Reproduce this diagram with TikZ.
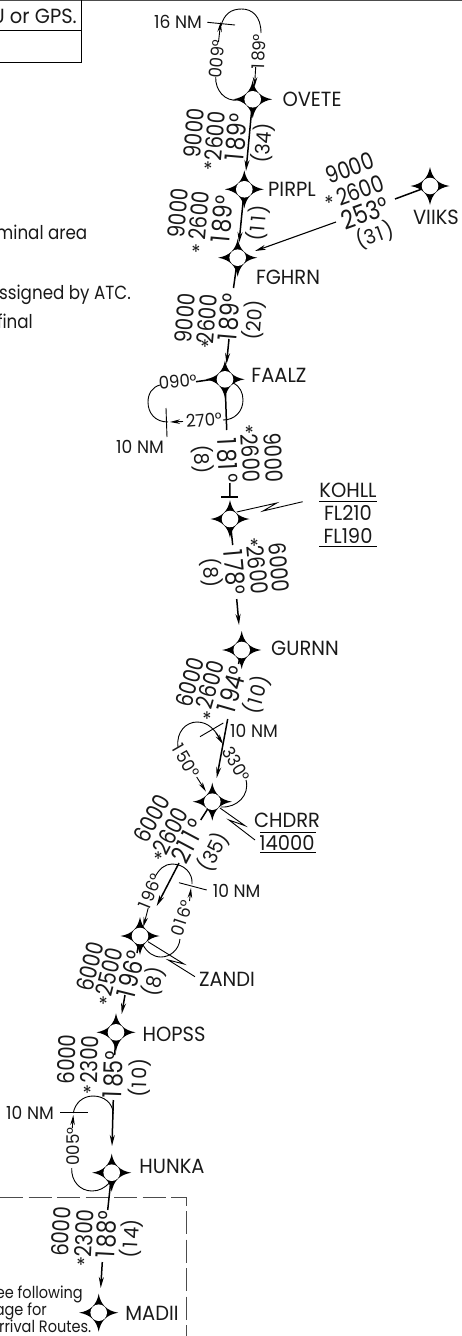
\documentclass[tikz,border=0pt]{standalone}
\usepackage{fontspec}
\usetikzlibrary{arrows.meta}
\setmainfont{Poppins}
\newfontfamily\dgf[FakeStretch=.84]{Poppins}
\newfontfamily\lbf[FakeStretch=.95]{Poppins}
\newfontfamily\ntf[FakeStretch=.88]{Poppins}
\newcommand{\one}{\kern.04em 1\kern.13em}
\tikzset{
  lab/.style={inner sep=0pt,font=\lbf\fontsize{20.5}{20}\selectfont,text=black!90},
  sm/.style={inner sep=0pt,font=\lbf\fontsize{18}{18}\selectfont,text=black!90},
  note/.style={inner sep=0pt,anchor=base east,font=\ntf\fontsize{19}{19}\selectfont,text=black!90},
  notesm/.style={note,font=\ntf\fontsize{16.5}{17}\selectfont},
  alt/.style={inner sep=0pt,font=\dgf\fontsize{23.5}{25}\selectfont,text=black!90},
  crs/.style={inner sep=0pt,font=\dgf\fontsize{26}{28}\selectfont,text=black!90},
  dst/.style={inner sep=0pt,font=\lbf\fontsize{20}{21}\selectfont,text=black!90},
  brg/.style={inner sep=0pt,font=\lbf\fontsize{17.5}{18}\selectfont,text=black!90},
  star/.style={inner sep=0pt,yshift=-2pt,font=\lbf\fontsize{20}{20}\selectfont,text=black!90},
  wptnode/.style={circle,fill=white,inner sep=0pt,minimum size=16.6pt},
  rte/.style={line width=1.5pt,black},
  rtearrow/.style={rte,-{Stealth[length=11pt,width=5pt]}},
  thin1/.style={line width=.9pt,black},
  thinarrow/.style={thin1,-{Stealth[length=10pt,width=4.5pt]}},
  dashbox/.style={line width=1pt,black!70,dash pattern=on 23pt off 5.5pt},
}
\newcommand{\wpt}[3]{%
  \begin{scope}[shift={(#2,#3)}]
  \fill (0,-19) .. controls (2,-8) and (8,-2) .. (19.5,0)
    .. controls (8,2) and (2,8) .. (0,19)
    .. controls (-2,8) and (-8,2) .. (-19.5,0)
    .. controls (-8,-2) and (-2,-8) .. (0,-19) -- cycle;
  \end{scope}
  \node[wptnode] (#1) at (#2,#3) {};}
\begin{document}
\begin{tikzpicture}[x=1pt,y=-1pt]
\useasboundingbox (0,0) rectangle (462,1336);
\clip (0,0) rectangle (462,1336);
% top frame
\draw[line width=1pt,black!70] (0,0.5) -- (462,0.5);
\draw[line width=1pt] (0,30) -- (81,30);
\draw[line width=1pt] (0,62.5) -- (81,62.5) -- (81,0);
\node[lab,anchor=base east] (t1) at (77,23) {U or GPS.};
\node[note] (t2) at (87.5,239) {minal area};
\node[note] (t3) at (131,299) {ssigned by ATC.};
\node[note] (t4) at (33,328) {final};
\node[notesm] (t5) at (83,1298) {ee following};
\node[notesm] (t6) at (47,1315) {age for};
\node[notesm] (t7) at (91.5,1332) {rrival Routes.};
% dashed box
\draw[dashbox] (0,1197.7) -- (186,1197.7) -- (186,1336);
% holding patterns and lightning leaders (under the waypoints)
\coordinate (a1) at (215.7,77); \coordinate (a2) at (238,100);
\draw[thin1] (a1) .. controls (215,90) and (225,102) .. (a2);
\draw[thin1] (261,33) .. controls (261,16) and (252,9) .. (241.7,9) .. controls (231,9) and (224,14) .. (221,26);
\draw[thinarrow] (218.5,42) -- (220.7,22);
\draw[thin1] (207.3,22.3) -- (235,25);
\draw[thinarrow] (255.7,67) -- (254.5,87);
% FAALZ
\draw[thin1] (160,385) .. controls (152,387) and (148,394) .. (148,402) .. controls (148,413) and (155,422) .. (168,422);
\draw[thinarrow] (183,421.5) -- (170,422);
\draw[thin1] (166,408) -- (167,437);
\draw[thin1] (223,420) .. controls (235,420) and (243,411) .. (243,400) .. controls (243,393) and (240,386) .. (233,383);
\draw[rte] (196,381.7) -- (215,379);
% CHDRR
\draw[thin1] (178,747) .. controls (176,732) and (186,722) .. (197,722) .. controls (208,722) and (216,730) .. (221.5,742);
\draw[thinarrow] (216,733) -- (223,744);
\draw[thin1] (200,736.7) -- (223.3,723);
\draw[thinarrow] (196.7,777) -- (206,791.7);
\draw[thin1] (246,780) .. controls (250,795) and (237,808) .. (221,807);
\draw[thin1] (220,808) -- (245,825.7) -- (229,820) -- (255,840);
% ZANDI
\draw[thin1] (155,877) .. controls (159,869) and (165,864) .. (172,864) .. controls (184,864) and (193,873) .. (192,884);
\draw[thinarrow] (189.5,901) -- (191,888);
\draw[thin1] (179,882.7) -- (206.7,890);
\draw[thinarrow] (148.3,907.7) -- (143.3,927);
\draw[thin1] (180,939) .. controls (179,950) and (170,957) .. (161,957) .. controls (153,957) and (147,952) .. (143,945);
\draw[thin1] (148,941.7) -- (184,964) -- (168.3,960) -- (195,976.7);
% HUNKA
\draw[thin1] (73.3,1113) .. controls (75,1103) and (83,1096) .. (93,1096) .. controls (104,1096) and (113,1103) .. (113.3,1114);
\draw[thin1] (60,1112.3) -- (87.7,1112.3);
\draw[thinarrow] (72.3,1128) -- (73.3,1115);
\draw[thin1] (71.7,1168) .. controls (71,1181) and (80,1191) .. (92,1191) .. controls (99,1191) and (105,1188) .. (110,1182);
% KOHLL lightning
\draw[thin1] (236.7,512) -- (276.7,503) -- (263,511) -- (302.7,501.7);
% waypoints
\wpt{ovete}{252.7}{99.3}
\wpt{pirpl}{244.3}{189.3}
\wpt{fghrn}{237.7}{257.7}
\wpt{viiks}{430}{186}
\wpt{faalz}{225}{379.3}
\wpt{kohll}{230}{519}
\wpt{gurnn}{241.7}{650}
\wpt{chdrr}{212.3}{801.7}
\wpt{zandi}{140}{936}
\wpt{hopss}{116}{1032.3}
\wpt{hunka}{111.7}{1172.7}
\wpt{madii}{98.7}{1312.7}
% route connectors
\draw[rtearrow] (ovete) -- (246,171);
\draw[rtearrow] (pirpl) -- (239,243);
\coordinate (v1) at (395,199);
\draw[rte] (v1) -- (viiks);
\coordinate (v2) at (336,222);
\draw[thin1,line width=1.1pt,-{Stealth[length=11pt,width=5pt]}] (v2) -- (255,251);
\draw[rte] (fghrn) -- (233.5,288);
\draw[rtearrow] (229,339) -- (226.5,364);
\draw[rte] (faalz) -- (226.7,430);
\draw[rte] (229.8,483) -- (230,497);
\draw[thin1,line width=1.2pt] (221,497) -- (238,497);
\draw[rte] (kohll) -- (232.7,545);
\draw[rtearrow] (236.7,599) -- (239,625);
\draw[rte] (gurnn) -- (238.5,664);
\draw[rtearrow] (227.7,719) -- (216.7,778);
\draw[rte] (chdrr) -- (200.7,820);
\draw[rtearrow] (179,863) -- (156.7,906);
\draw[rte] (zandi) -- (137,953);
\draw[rtearrow] (125,995) -- (121.7,1014);
\draw[rte] (hopss) -- (114.7,1055);
\draw[rtearrow] (113.3,1100) -- (112,1146);
\draw[rte] (hunka) -- (107.7,1210);
\draw[rtearrow] (102.3,1262) -- (100.7,1288);
% names
\node[lab] (n1) at (312,99) {OVETE};
\node[lab] (n2) at (292,189) {PIRPL};
\node[lab] (n3) at (436,217) {VIIKS};
\node[lab] (n4) at (288,277) {FGHRN};
\node[lab] (n5) at (279,375) {FAALZ};
\node[lab] (n6) at (348,490) {KOHLL};
\node[lab] (n7) at (348,513) {FL210};
\node[lab] (n8) at (348,536) {FL190};
\draw[line width=1pt] (319,501) -- (377,501);
\draw[line width=1pt] (319,546) -- (377,546);
\node[lab] (n9) at (305,648) {GURNN};
\node[lab] (n10) at (287,820) {CHDRR};
\node[lab] (n11) at (287,843) {14000};
\draw[line width=1pt] (260,832) -- (316,832);
\draw[line width=1pt] (260,852) -- (316,852);
\node[lab] (n12) at (227,979) {ZANDI};
\node[lab] (n13) at (174,1034) {HOPSS};
\node[lab] (n14) at (172,1166) {HUNKA};
\node[lab] (n15) at (152,1313) {MADII};
\node[sm] (d1) at (178,22) {16 NM};
\node[sm] (d2) at (140,447) {10 NM};
\node[sm] (d3) at (254,730.7) {10 NM};
\node[sm] (d4) at (236.7,890.7) {10 NM};
\node[sm] (d5) at (30,1112.7) {10 NM};
% holding bearings
\node[brg,rotate=88] (b1) at (259,52) {\one 89°};
\node[brg,rotate=85] (b2) at (216.7,59) {009°};
\node[brg,rotate=5] (b3) at (177.7,381.7) {090°};
\node[brg,rotate=5] (b4) at (204,420) {270°};
\node[brg,rotate=-60] (b5) at (186,760.7) {\one 50°};
\node[brg,rotate=-60] (b6) at (236,764) {330°};
\node[brg,rotate=68] (b7) at (150,891.7) {\one 96°};
\node[brg,rotate=72] (b8) at (181.7,918) {0\one 6°};
\node[brg,rotate=90] (b9) at (72.7,1146.7) {005°};
% OVETE-PIRPL
\node[alt,rotate=85] (a1a) at (194,133) {9000};
\node[alt,rotate=85] (a1b) at (215,136) {2600};
\node[star] (s1) at (208,167) {*};
\node[crs,rotate=85] (c1) at (236.5,138) {\one 89°};
\node[dst,rotate=85] (e1) at (263,143) {(34)};
% PIRPL-FGHRN
\node[alt,rotate=85] (a2a) at (178.3,213) {9000};
\node[alt,rotate=85] (a2b) at (199,215.7) {2600};
\node[star] (s2) at (196,250) {*};
\node[crs,rotate=85] (c2) at (222.5,220) {\one 89°};
\node[dst,rotate=85] (e2) at (258,223) {(\one\one)};
% VIIKS-FGHRN
\node[alt,rotate=20] (a3a) at (350,168) {9000};
\node[alt,rotate=20] (a3b) at (360,190) {2600};
\node[star] (s3) at (329,201) {*};
\node[crs,rotate=20] (c3) at (365,213) {253°};
\node[dst,rotate=20] (e3) at (375,235) {(3\one)};
% FGHRN-FAALZ
\node[alt,rotate=85] (a4a) at (185,318) {9000};
\node[alt,rotate=85] (a4b) at (207,319) {2600};
\node[star] (s4) at (205,345) {*};
\node[crs,rotate=85] (c4) at (229.5,318) {\one 89°};
\node[dst,rotate=85] (e4) at (254,320) {(20)};
% FAALZ-KOHLL
\node[alt,rotate=-87] (a5a) at (273.3,457.7) {9000};
\node[alt,rotate=-87] (a5b) at (250.7,458.3) {2600};
\node[star] (s5) at (249.3,431) {*};
\node[crs,rotate=-87] (c5) at (227.7,460) {\one 8\one °};
\node[dst,rotate=-87] (e5) at (202.3,459.3) {(8)};
% KOHLL-GURNN
\node[alt,rotate=-85] (a6a) at (279.3,567.7) {6000};
\node[alt,rotate=-85] (a6b) at (257.7,570) {2600};
\node[star] (s6) at (254.3,544) {*};
\node[crs,rotate=-85] (c6) at (235,571.7) {\one 78°};
\node[dst,rotate=-85] (e6) at (211,572.7) {(8)};
% GURNN-CHDRR
\node[alt,rotate=74] (a7a) at (190,682) {6000};
\node[alt,rotate=74] (a7b) at (210,685) {2600};
\node[star] (s7) at (207,717) {*};
\node[crs,rotate=74] (c7) at (232,690) {\one 94°};
\node[dst,rotate=74] (e7) at (257,695) {(\one 0)};
% CHDRR-ZANDI
\node[alt,rotate=62] (a8a) at (151.7,818.3) {6000};
\node[alt,rotate=62] (a8b) at (170.7,830.7) {2600};
\node[star] (s8) at (158.3,857) {*};
\node[crs,rotate=62] (c8) at (188,841) {2\one\one °};
\node[dst,rotate=62] (e8) at (213.3,851.7) {(35)};
% ZANDI-HOPSS
\node[alt,rotate=76] (a9a) at (90,966.7) {6000};
\node[alt,rotate=76] (a9b) at (109.3,971.7) {2500};
\node[star] (s9) at (103.3,1002) {*};
\node[crs,rotate=76] (c9) at (130.5,975) {\one 96°};
\node[dst,rotate=76] (e9) at (153.3,981.7) {(8)};
% HOPSS-HUNKA
\node[alt,rotate=88] (a10a) at (66.7,1059.3) {6000};
\node[alt,rotate=88] (a10b) at (89.3,1059.3) {2300};
\node[star] (s10) at (87.3,1091) {*};
\node[crs,rotate=88] (c10) at (113.5,1075) {\one 85°};
\node[dst,rotate=88] (e10) at (139.3,1078) {(\one 0)};
% HUNKA-MADII
\node[alt,rotate=87] (a11a) at (61,1231.7) {6000};
\node[alt,rotate=87] (a11b) at (84.3,1233.3) {2300};
\node[star] (s11) at (81,1263) {*};
\node[crs,rotate=87] (c11) at (106.5,1235) {\one 88°};
\node[dst,rotate=87] (e11) at (131,1238.3) {(\one 4)};
\end{tikzpicture}
\end{document}
